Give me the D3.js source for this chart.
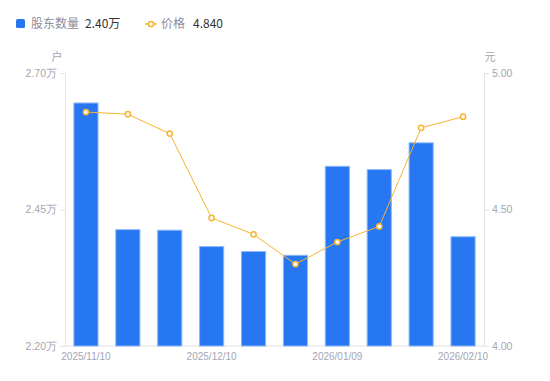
<!DOCTYPE html>
<html lang="zh">
<head>
<meta charset="UTF-8">
<title>股东数量与价格</title>
<style>
    body { margin: 0; background: #fff; font-family: "Noto Sans CJK SC", "Noto Sans", sans-serif; }
    .tick text { fill: #a3a5b3; font-size: 10.5px; }
    .xaxis .tick text { font-size: 10px; }
    .legend text { font-size: 12px; }
</style>
</head>
<body>
<script src="https://d3js.org/d3.v7.min.js"></script>
<script>
    const dates = ['2025/11/10', '2025/11/20', '2025/11/28', '2025/12/10', '2025/12/19',
                   '2025/12/31', '2026/01/09', '2026/01/20', '2026/01/30', '2026/02/10']
    const holders = [2.646, 2.414, 2.413, 2.383, 2.374, 2.367, 2.530, 2.524, 2.573, 2.401]
    const prices = [4.857, 4.849, 4.778, 4.469, 4.409, 4.300, 4.381, 4.438, 4.799, 4.840]
    const leftTicks = [2.20, 2.45, 2.70]
    const rightTicks = [4.00, 4.50, 5.00]
    const shownDates = ['2025/11/10', '2025/12/10', '2026/01/09', '2026/02/10']

    const width = 550, height = 381
    const plotL = 65, plotR = 484, plotT = 73, plotB = 346

    const svg = d3.select('body').append('svg')
        .attr('width', width)
        .attr('height', height)

    const x = d3.scaleBand().domain(dates).range([plotL, plotR])
        .paddingInner(0.4).paddingOuter(0.2)
    const yL = d3.scaleLinear().domain([2.20, 2.70]).range([plotB, plotT])
    const yR = d3.scaleLinear().domain([4.00, 5.00]).range([plotB, plotT])

    // axes
    const axL = svg.append('g').attr('transform', `translate(${plotL},0)`)
        .call(d3.axisLeft(yL).tickValues(leftTicks).tickSize(5).tickPadding(3)
            .tickFormat(d => d.toFixed(2) + '万'))
    const axR = svg.append('g').attr('transform', `translate(${plotR},0)`)
        .call(d3.axisRight(yR).tickValues(rightTicks).tickSize(5).tickPadding(3)
            .tickFormat(d => d.toFixed(2)))
    const axB = svg.append('g').attr('class', 'xaxis').attr('transform', `translate(0,${plotB})`)
        .call(d3.axisBottom(x).tickValues(shownDates).tickSize(0).tickPadding(7))
    ;[axL, axR, axB].forEach(a => {
        a.select('.domain').attr('stroke', '#e3e3e8')
        a.selectAll('.tick line').attr('stroke', '#e3e3e8')
    })
    axB.select('.domain').attr('d', `M${plotL},0H${plotR}`)

    svg.append('text').attr('x', 57).attr('y', 61).attr('text-anchor', 'middle')
        .attr('fill', '#a3a5b3').attr('font-size', 11).text('户')
    svg.append('text').attr('x', 490).attr('y', 61).attr('text-anchor', 'middle')
        .attr('fill', '#a3a5b3').attr('font-size', 11).text('元')

    // bars
    svg.append('g').selectAll('rect')
        .data(holders)
        .enter()
        .append('rect')
        .attr('x', (d, i) => x(dates[i]) + 0.5)
        .attr('y', d => yL(d) + 0.5)
        .attr('width', x.bandwidth() - 1)
        .attr('height', d => plotB - yL(d) - 0.5)
        .attr('fill', '#2777f2')
        .attr('stroke', '#8db6f7')
        .attr('stroke-width', 1)

    // price line
    const line = d3.line()
        .x((d, i) => x(dates[i]) + x.bandwidth() / 2)
        .y(d => yR(d))
    svg.append('path')
        .datum(prices)
        .attr('d', line)
        .attr('fill', 'none')
        .attr('stroke', '#f8b431')
        .attr('stroke-width', 1)
    svg.append('g').selectAll('circle')
        .data(prices)
        .enter()
        .append('circle')
        .attr('cx', (d, i) => x(dates[i]) + x.bandwidth() / 2)
        .attr('cy', d => yR(d))
        .attr('r', 2.6)
        .attr('fill', '#fff')
        .attr('stroke', '#f8b431')
        .attr('stroke-width', 1.5)

    // legend
    const lg = svg.append('g').attr('class', 'legend')
    lg.append('rect').attr('x', 16).attr('y', 19).attr('width', 9).attr('height', 9)
        .attr('rx', 1.5).attr('fill', '#2777f2')
    lg.append('text').attr('x', 31).attr('y', 28).attr('fill', '#8c8e9c').text('股东数量')
    lg.append('text').attr('x', 85).attr('y', 28).attr('fill', '#333').text(holders[holders.length - 1].toFixed(2) + '万')
    lg.append('line').attr('x1', 145).attr('x2', 157).attr('y1', 24).attr('y2', 24)
        .attr('stroke', '#f8b431').attr('stroke-width', 1.5)
    lg.append('circle').attr('cx', 151).attr('cy', 24).attr('r', 2.6)
        .attr('fill', '#fff').attr('stroke', '#f8b431').attr('stroke-width', 1.5)
    lg.append('text').attr('x', 161).attr('y', 28).attr('fill', '#8c8e9c').text('价格')
    lg.append('text').attr('x', 193).attr('y', 28).attr('fill', '#333').text(prices[prices.length - 1].toFixed(3))
</script>
</body>
</html>
